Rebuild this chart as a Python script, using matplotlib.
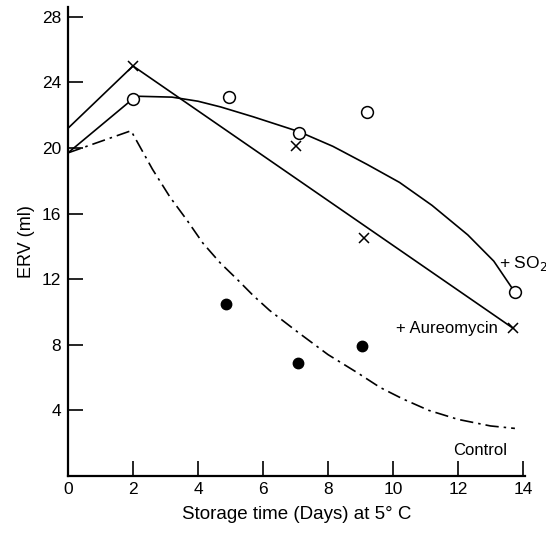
import numpy as np
import matplotlib.pyplot as plt

plt.rcParams['font.family'] = ['Liberation Sans', 'DejaVu Sans']

# + Aureomycin (straight segments) and its x points
aur_line_x = [0, 2, 13.7]
aur_line_y = [21.2, 25.0, 9.0]
aur_pts_x = [2, 7.0, 9.1, 13.7]
aur_pts_y = [25.0, 20.1, 14.5, 9.0]

# + SO2 curve and open circles
so2_line_x = [0, 2, 2.2, 3.2, 4.0, 4.7, 5.7, 7.1, 8.15, 9.2, 10.2, 11.2, 12.3, 13.1, 13.75]
so2_line_y = [19.7, 23.0, 23.15, 23.1, 22.85, 22.5, 21.9, 21.0, 20.1, 19.0, 17.9, 16.5, 14.7, 13.1, 11.2]
so2_pts_x = [2, 4.95, 7.1, 9.2, 13.75]
so2_pts_y = [23.0, 23.1, 20.9, 22.2, 11.2]

# Control curve (dash-dot) and filled dots
ctl_line_x = [0, 1.94, 2.6, 3.14, 3.66, 4.15, 4.68, 5.2, 5.7, 6.2, 7.05, 8.0, 8.9, 9.6, 10.3, 11.1, 12.0, 13.0, 13.75]
ctl_line_y = [19.7, 21.05, 18.7, 17.0, 15.6, 14.2, 13.0, 12.0, 11.0, 10.1, 8.8, 7.4, 6.3, 5.4, 4.7, 4.0, 3.45, 3.05, 2.9]
ctl_pts_x = [4.86, 7.08, 9.05]
ctl_pts_y = [10.5, 6.9, 7.9]

fig = plt.figure(figsize=(5.46, 5.33), dpi=100)
ax = fig.add_axes([0.1245, 0.107, 0.837, 0.88])

ax.plot(aur_line_x, aur_line_y, color='black', lw=1.2)
ax.plot(aur_pts_x, aur_pts_y, 'x', color='black', ms=7.5, mew=1.1)

ax.plot(so2_line_x, so2_line_y, color='black', lw=1.2)
ax.plot(so2_pts_x, so2_pts_y, 'o', mfc='white', mec='black', ms=8.5, mew=1.1)

ax.plot(ctl_line_x, ctl_line_y, color='black', lw=1.2, linestyle=(0, (8, 3, 1.5, 3)))
ax.plot(ctl_pts_x, ctl_pts_y, 'o', color='black', ms=7.5)

ax.text(13.25, 12.7, '+ SO$_2$', fontsize=12.5)
ax.text(10.1, 8.7, '+ Aureomycin', fontsize=12)
ax.text(11.85, 1.3, 'Control', fontsize=12)

ax.set_xlim(0, 14.06)
ax.set_ylim(0, 28.6)
ax.set_xticks(range(0, 15, 2))
ax.set_yticks(range(4, 29, 4))
ax.tick_params(direction='in', length=11, width=1.2, labelsize=12.5)
ax.tick_params(axis='y', pad=5)
ax.tick_params(axis='x', pad=4)
for s in ['top', 'right']:
    ax.spines[s].set_visible(False)
for s in ['left', 'bottom']:
    ax.spines[s].set_linewidth(1.6)

ax.set_xlabel('Storage time (Days) at 5° C', fontsize=13.5, labelpad=7)
ax.set_ylabel('ERV (ml)', fontsize=13, labelpad=5)

fig.savefig('out.png', dpi=100)
